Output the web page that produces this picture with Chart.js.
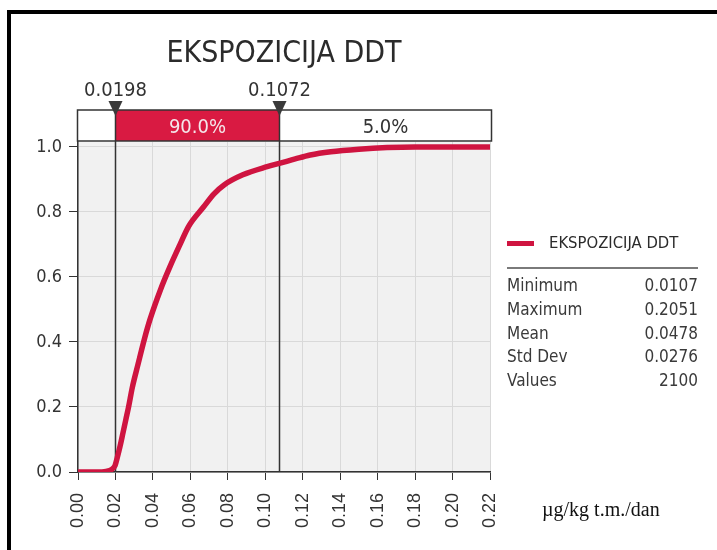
<!DOCTYPE html>
<html>
<head>
<meta charset="utf-8">
<script src="https://cdn.jsdelivr.net/npm/chart.js@4.4.1/dist/chart.umd.min.js"></script>
<style>
  html, body { margin:0; padding:0; background:#fff; }
  body { width:717px; height:550px; overflow:hidden; position:relative; font-family:"DejaVu Sans Condensed","DejaVu Sans",sans-serif; color:#333; }
  #frame { position:absolute; left:7px; top:10px; width:800px; height:700px; border:4px solid #000; box-sizing:border-box; }
  #wrap { position:absolute; left:0; top:0; width:717px; height:550px; }
  #title { position:absolute; left:78px; width:412px; top:37px; text-align:center; font-size:30px; line-height:30px; color:#2b2b2b; white-space:nowrap; }
  #legLine { position:absolute; left:507px; top:241px; width:27px; height:5px; background:#cf1440; }
  #legText { position:absolute; left:549px; top:234px; font-size:16.5px; line-height:18px; color:#2b2b2b; white-space:nowrap; }
  #sep { position:absolute; left:507px; top:267px; width:191px; height:2px; background:#7a7a7a; }
  #stats { position:absolute; left:507px; top:274px; width:191px; font-size:17px; color:#3a3a3a; }
  .row { display:flex; justify-content:space-between; height:23.8px; line-height:23.8px; }
  #unit { position:absolute; left:542px; top:499px; font-family:"Liberation Serif","Times New Roman",serif; font-size:20px; line-height:20px; color:#111; white-space:nowrap; }
</style>
</head>
<body>
<div id="frame"></div>
<div id="wrap"><canvas id="c" width="717" height="550"></canvas></div>
<div id="title"></div>
<div id="legLine"></div>
<div id="legText"></div>
<div id="sep"></div>
<div id="stats"></div>
<div id="unit"></div>
<script>
// ---- data ----
const seriesName = 'EKSPOZICIJA DDT';
const unitLabel = 'µg/kg t.m./dan';
const xValues   = [0, 0.010, 0.015, 0.018, 0.0198, 0.021, 0.0225, 0.024, 0.0255, 0.027, 0.029, 0.032, 0.0355, 0.0385, 0.044, 0.049, 0.0545, 0.059, 0.067, 0.0725, 0.078, 0.088, 0.101, 0.108, 0.116, 0.124, 0.135, 0.150, 0.165, 0.180, 0.205, 0.220];
const cdfValues = [0, 0,     0.002, 0.008, 0.020,  0.045, 0.080,  0.120, 0.160,  0.200, 0.260, 0.330, 0.410,  0.470,  0.560, 0.630, 0.700,  0.755, 0.815, 0.855,  0.883, 0.914, 0.939, 0.950, 0.963, 0.975, 0.985, 0.993, 0.998, 1.000, 1.000, 1.000];
const xTickValues = [0, 0.02, 0.04, 0.06, 0.08, 0.10, 0.12, 0.14, 0.16, 0.18, 0.20, 0.22];
const yTickValues = [0, 0.2, 0.4, 0.6, 0.8, 1.0];
const markerValues = [0.0198, 0.1072];
const markerLabels = ['0.0198', '0.1072'];
const bandLabels = ['90.0%', '5.0%'];
const statNames  = ['Minimum', 'Maximum', 'Mean', 'Std Dev', 'Values'];
const statValues = ['0.0107', '0.2051', '0.0478', '0.0276', '2100'];

// ---- HTML text ----
document.getElementById('title').textContent = seriesName;
document.getElementById('legText').textContent = seriesName;
document.getElementById('unit').textContent = unitLabel;
const statsEl = document.getElementById('stats');
statNames.forEach((n, i) => {
  const r = document.createElement('div'); r.className = 'row';
  const a = document.createElement('span'); a.textContent = n;
  const b = document.createElement('span'); b.textContent = statValues[i];
  r.appendChild(a); r.appendChild(b); statsEl.appendChild(r);
});

const FONT = '"DejaVu Sans Condensed","DejaVu Sans",sans-serif';
const RED_LINE = '#cf1440';
const RED_BAR = '#d91a42';
const DARK = '#333333';

const markerPlugin = {
  id: 'markers',
  beforeDraw(chart) {
    const { ctx, chartArea: a } = chart;
    ctx.save();
    ctx.fillStyle = '#f1f1f1';
    ctx.fillRect(a.left, a.top, a.right - a.left, a.bottom - a.top);
    ctx.restore();
  },
  beforeDatasetsDraw(chart) {
    const { ctx, chartArea: a, scales } = chart;
    ctx.save();
    ctx.strokeStyle = DARK; ctx.lineWidth = 1.5;
    markerValues.forEach(v => {
      const x = Math.round(scales.x.getPixelForValue(v)) + 0.5;
      ctx.beginPath(); ctx.moveTo(x, a.top); ctx.lineTo(x, a.bottom); ctx.stroke();
    });
    ctx.restore();
  },
  afterDraw(chart) {
    const { ctx, chartArea: a, scales } = chart;
    const top = 110, bot = 141;
    const left = a.left - 0.5, right = a.right + 1.5;
    const x1 = Math.round(scales.x.getPixelForValue(markerValues[0])) + 0.5;
    const x2 = Math.round(scales.x.getPixelForValue(markerValues[1])) + 0.5;
    ctx.save();
    ctx.fillStyle = '#fff';
    ctx.fillRect(left, top, right - left, bot - top);
    ctx.fillStyle = RED_BAR;
    ctx.fillRect(x1, top, x2 - x1, bot - top);
    ctx.strokeStyle = DARK; ctx.lineWidth = 1.5;
    [x1, x2].forEach(x => { ctx.beginPath(); ctx.moveTo(x, 102); ctx.lineTo(x, a.top); ctx.stroke(); });
    ctx.strokeRect(left, top, right - left, bot - top);
    ctx.fillStyle = '#3a3a3a';
    [x1, x2].forEach(x => {
      ctx.beginPath(); ctx.moveTo(x - 7, 101); ctx.lineTo(x + 7, 101); ctx.lineTo(x, 116); ctx.closePath(); ctx.fill();
    });
    ctx.font = '20px ' + FONT;
    ctx.fillStyle = '#333';
    ctx.textAlign = 'center'; ctx.textBaseline = 'alphabetic';
    ctx.fillText(markerLabels[0], x1, 96);
    ctx.fillText(markerLabels[1], x2, 96);
    ctx.fillStyle = '#f4e6ea';
    ctx.fillText(bandLabels[0], (x1 + x2) / 2, 133);
    ctx.fillStyle = '#333';
    ctx.fillText(bandLabels[1], (x2 + right) / 2, 133);
    ctx.restore();
  }
};

new Chart(document.getElementById('c'), {
  type: 'line',
  data: {
    datasets: [{
      label: seriesName,
      data: xValues.map((x, i) => ({ x: x, y: cdfValues[i] })),
      borderColor: RED_LINE,
      backgroundColor: RED_LINE,
      borderWidth: 5.5,
      pointRadius: 0,
      cubicInterpolationMode: 'monotone',
      fill: false
    }]
  },
  options: {
    responsive: false,
    devicePixelRatio: 1,
    animation: false,
    layout: { padding: { left: 0, top: 142, right: 227, bottom: 0 } },
    plugins: { legend: { display: false }, title: { display: false }, tooltip: { enabled: false } },
    scales: {
      x: {
        type: 'linear', min: 0, max: 0.22,
        afterBuildTicks: s => { s.ticks = xTickValues.map(v => ({ value: v })); },
        afterFit: s => { s.height = 78; },
        ticks: {
          callback: v => Number(v).toFixed(2),
          minRotation: 90, maxRotation: 90, autoSkip: false, padding: 13,
          color: '#333', font: { family: '"Liberation Sans", Arial, sans-serif', size: 18 }
        },
        grid: { color: '#d9d9d9', lineWidth: 1, tickColor: '#333', tickLength: 8, drawTicks: true },
        border: { color: '#333', width: 1.5 }
      },
      y: {
        type: 'linear', min: 0, max: 1.015,
        afterBuildTicks: s => { s.ticks = yTickValues.map(v => ({ value: v })); },
        afterFit: s => { s.width = 78; },
        ticks: {
          callback: v => Number(v).toFixed(1),
          padding: 7, color: '#333', font: { family: FONT, size: 18 }
        },
        grid: { color: '#d9d9d9', lineWidth: 1, tickColor: '#333', tickLength: 9, drawTicks: true },
        border: { color: '#333', width: 1.5 }
      }
    }
  },
  plugins: [markerPlugin]
});
</script>
</body>
</html>
